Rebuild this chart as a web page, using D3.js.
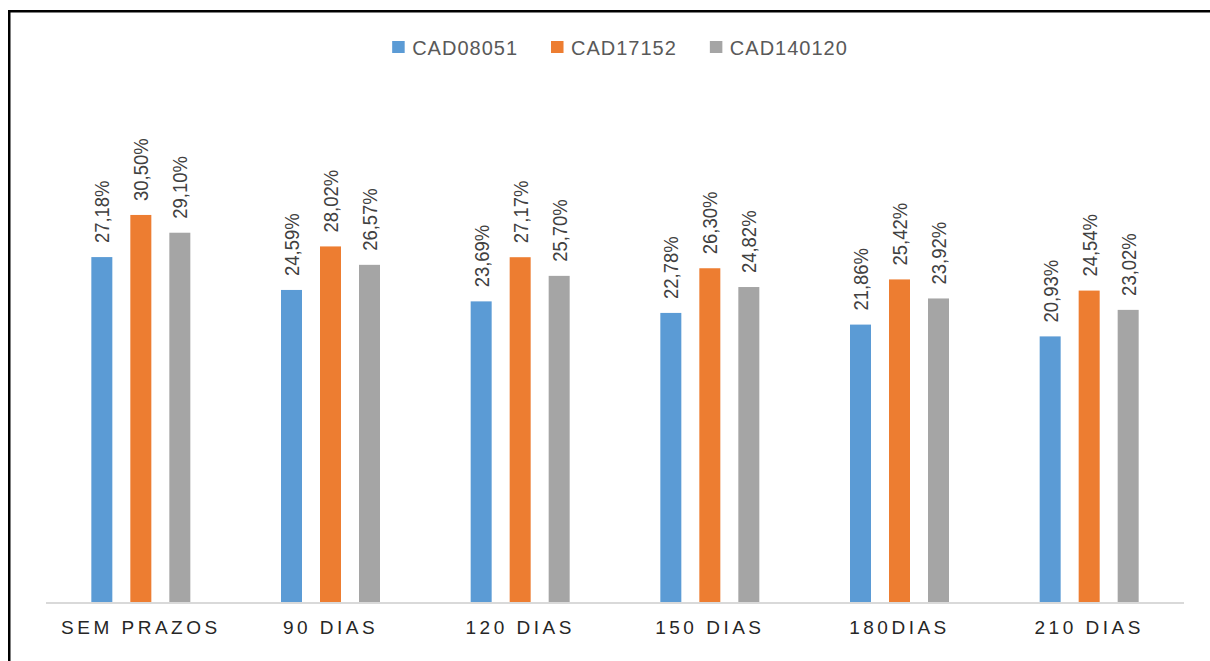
<!DOCTYPE html>
<html>
<head>
<meta charset="utf-8">
<script src="https://cdn.jsdelivr.net/npm/d3@7"></script>
<style>
  html, body { margin: 0; padding: 0; background: #fff; }
  svg { display: block; }
  text { font-family: "Liberation Sans", Arial, sans-serif; }
</style>
</head>
<body>
<svg id="chart" width="1210" height="661"></svg>
<script>
// Categories (time windows) and series
const categories = ["SEM PRAZOS", "90 DIAS", "120 DIAS", "150 DIAS", "180DIAS", "210 DIAS"];
const seriesNames = ["CAD08051", "CAD17152", "CAD140120"];
const seriesColors = ["#5B9BD5", "#ED7D31", "#A5A5A5"];

// Percentage values per series, one per category
const cad08051  = [27.18, 24.59, 23.69, 22.78, 21.86, 20.93];
const cad17152  = [30.50, 28.02, 27.17, 26.30, 25.42, 24.54];
const cad140120 = [29.10, 26.57, 25.70, 24.82, 23.92, 23.02];
const seriesValues = [cad08051, cad17152, cad140120];

const svg = d3.select("#chart");
const W = 1210, H = 661;

// Outer frame: only top and left edges fall inside the view
svg.append("rect")
  .attr("x", 9.25).attr("y", 11.25)
  .attr("width", W + 20).attr("height", H + 20)
  .attr("fill", "none")
  .attr("stroke", "#000")
  .attr("stroke-width", 2.5);

const plotLeft = 46, plotRight = 1184, baseY = 602;

const x0 = d3.scaleBand()
  .domain(categories)
  .range([plotLeft, plotRight])
  .padding(0);

const bw = x0.bandwidth();
const x1 = d3.scaleBand()
  .domain(seriesNames)
  .range([bw / 2 - 58.5, bw / 2 + 58.5])
  .paddingInner(18 / 39)
  .paddingOuter(9 / 39);

const y = d3.scaleLinear()
  .domain([0, 35])
  .range([baseY, baseY - 35 * 12.69]);

// Flatten into records for drawing
const records = [];
categories.forEach((c, i) => {
  seriesNames.forEach((s, j) => {
    records.push({ cat: c, series: s, value: seriesValues[j][i], color: seriesColors[j] });
  });
});

const fmt = v => v.toFixed(2).replace(".", ",") + "%";

// Bars
svg.append("g").selectAll("rect")
  .data(records)
  .join("rect")
  .attr("x", d => x0(d.cat) + x1(d.series))
  .attr("y", d => y(d.value))
  .attr("width", x1.bandwidth())
  .attr("height", d => y(0) - y(d.value))
  .attr("fill", d => d.color);

// Value labels, rotated
svg.append("g").selectAll("text")
  .data(records)
  .join("text")
  .attr("transform", d => {
    const cx = x0(d.cat) + x1(d.series) + x1.bandwidth() / 2;
    const ty = y(d.value) - 14;
    return `translate(${cx},${ty}) rotate(-90) scale(0.9,1)`;
  })
  .attr("text-anchor", "start")
  .attr("dominant-baseline", "central")
  .attr("font-size", 20.5)
  .attr("fill", "#404040")
  .text(d => fmt(d.value));

// Category axis
const xAxis = svg.append("g")
  .attr("transform", `translate(0,${baseY})`)
  .call(d3.axisBottom(x0).tickSize(0).tickPadding(0));
xAxis.select(".domain")
  .attr("stroke", "#D9D9D9")
  .attr("stroke-width", 2)
  .attr("d", `M${plotLeft},1H${plotRight}`);
xAxis.selectAll(".tick text")
  .attr("y", 32)
  .attr("dy", 0)
  .attr("font-family", "Liberation Sans, Arial, sans-serif")
  .attr("font-size", 19)
  .attr("letter-spacing", "3.5px")
  .attr("fill", "#262626");

// Legend
const legend = svg.append("g");
let lx = 0;
const items = [];
seriesNames.forEach((s, j) => {
  const g = legend.append("g");
  g.append("rect")
    .attr("x", 0).attr("y", 41)
    .attr("width", 12.5).attr("height", 12)
    .attr("fill", seriesColors[j]);
  const t = g.append("text")
    .attr("x", 20).attr("y", 55)
    .attr("font-size", 20)
    .attr("letter-spacing", "1px")
    .attr("fill", "#595959")
    .text(s);
  const tw = t.node().getComputedTextLength();
  g.attr("transform", `translate(${lx},0)`);
  lx += 20 + tw + 33;
});
const legendWidth = lx - 33;
legend.attr("transform", `translate(${620 - legendWidth / 2},0)`);
</script>
</body>
</html>
